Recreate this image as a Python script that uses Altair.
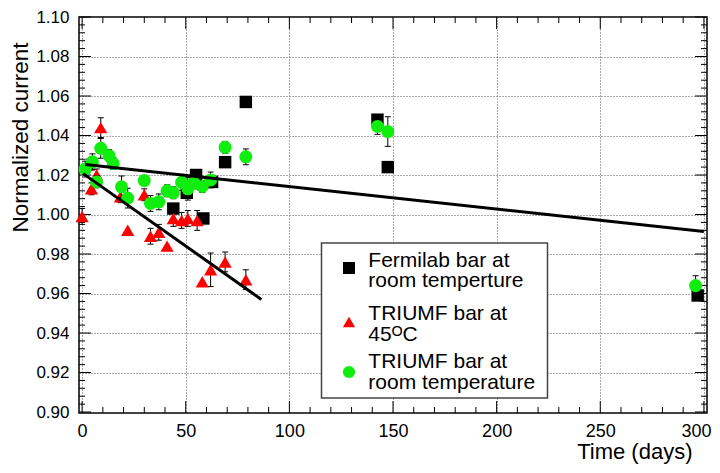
import altair as alt
import pandas as pd
import numpy as np

F = "Liberation Sans"

# ---------------- data ----------------
# Fermilab bar at room temperature (black squares)
fermi_x = [44, 50.5, 55, 58.5, 62.7, 69, 79, 142.5, 147.5, 297]
fermi_y = [1.003, 1.011, 1.020, 0.998, 1.0165, 1.0265, 1.057, 1.048, 1.024, 0.959]

# TRIUMF bar at 45 C (red triangles)
t45_x = [0, 3, 4.5, 7, 9, 18.5, 22, 30, 33, 37, 41, 44, 48, 51, 55.5, 58, 62, 69, 79]
t45_y = [0.999, 1.025, 1.013, 1.020, 1.044, 1.009, 0.992, 1.010, 0.989, 0.991,
         0.984, 0.998, 0.997, 0.998, 0.997, 0.966, 0.972, 0.976, 0.967]
t45_e = [0.004, 0.003, 0.003, 0.003, 0.005, 0.003, 0.0, 0.003, 0.004, 0.004,
         0.0, 0.004, 0.004, 0.004, 0.005, 0.0, 0.0085, 0.005, 0.005]

# TRIUMF bar at room temperature (green circles)
trt_x = [1.5, 5, 7, 9, 13, 15, 19, 22, 30, 33, 37, 41, 44, 48, 51, 54, 58, 62,
         69, 79, 142.5, 147.5, 296]
trt_y = [1.023, 1.0267, 1.0165, 1.0335, 1.0298, 1.0258, 1.014, 1.0083, 1.0172,
         1.0056, 1.0064, 1.012, 1.011, 1.0163, 1.013, 1.016, 1.0142, 1.0175,
         1.034, 1.0292, 1.0446, 1.042, 0.964]
trt_e = [0.004, 0.004, 0.003, 0.005, 0.003, 0.003, 0.0055, 0.005, 0.002, 0.004,
         0.004, 0.003, 0.003, 0.004, 0.0057, 0.003, 0.003, 0.004, 0.003, 0.004,
         0.004, 0.0075, 0.005]

# fitted straight lines (end points)
fit1_x = [1.5, 300]
fit1_y = [1.0253, 0.9914]
fit2_x = [0.5, 86.5]
fit2_y = [1.0207, 0.957]

# legend labels (two lines each)
legend_labels = [
    ["Fermilab bar at", "room temperture"],
    ["TRIUMF bar at", "45\u1D3CC"],
    ["TRIUMF bar at", "room temperature"],
]

# axis tick values
x_major = [0, 50, 100, 150, 200, 250, 300]
x_minor = [v for v in range(0, 301, 10) if v % 50 != 0]
y_major = [round(0.90 + 0.02 * i, 2) for i in range(11)]
y_minor = [round(0.90 + 0.004 * i, 3) for i in range(51) if i % 5 != 0]

# ---------------- layout ----------------
W, H = 628, 396
TOP = 9          # top padding (plot top at page y = 8 + TOP)
DY = -TOP        # legend positions were measured relative to page y = 8

fermi = pd.DataFrame({"x": fermi_x, "y": fermi_y})
t45 = pd.DataFrame({"x": t45_x, "y": t45_y, "e": t45_e})
trt = pd.DataFrame({"x": trt_x, "y": trt_y, "e": trt_e})
for d in (t45, trt):
    d["lo"] = d["y"] - d["e"]
    d["hi"] = d["y"] + d["e"]
fits = pd.DataFrame({
    "x": fit1_x + fit2_x,
    "y": fit1_y + fit2_y,
    "fit": ["a", "a", "b", "b"],
})

xs = alt.Scale(domain=[-1.5, 301.5], nice=False, zero=False)
ys = alt.Scale(domain=[0.8995, 1.1], nice=False, zero=False)

xaxis = alt.Axis(
    values=x_major, format="d", title="Time (days)",
    labelFont=F, labelFontSize=18, labelColor="black", labelPadding=9,
    labelFlush=False, labelOverlap=False,
    labelOffset={"condition": {"test": "datum.value == 300", "value": -8}, "value": 0},
    ticks=False, tickSize=0, domain=False,
    grid=True, gridDash=[1, 2], gridColor="#555555", gridWidth=1,
    titleFont=F, titleFontSize=22, titleFontWeight="normal", titleColor="black",
    titleAlign="right", titleBaseline="middle", titleX=613, titleY=38,
)
yaxis = alt.Axis(
    values=y_major, format=".2f", title="Normalized current",
    labelFont=F, labelFontSize=17, labelColor="black", labelPadding=10,
    labelFlush=False, labelOverlap=False,
    ticks=False, tickSize=0, domain=False,
    grid=True, gridDash=[1, 2], gridColor="#555555", gridWidth=1,
    titleFont=F, titleFontSize=22.5, titleFontWeight="normal", titleColor="black",
    titleAngle=270, titleAlign="center", titleBaseline="top",
    titleX=-70, titleY=120,
)


def X(f="x"):
    return alt.X(f, type="quantitative", scale=xs, axis=xaxis)


def Y(f="y"):
    return alt.Y(f, type="quantitative", scale=ys, axis=yaxis)


layers = []


# frame ticks (inside)
def yticks(vals, L):
    d = pd.DataFrame({"v": vals})
    left = alt.Chart(d).mark_rule(color="black", strokeWidth=1).encode(
        y=Y("v"), x=alt.value(0), x2=alt.value(L))
    right = alt.Chart(d).mark_rule(color="black", strokeWidth=1).encode(
        y=Y("v"), x=alt.value(W - L), x2=alt.value(W))
    return [left, right]


def xticks(vals, L):
    d = pd.DataFrame({"v": vals})
    bottom = alt.Chart(d).mark_rule(color="black", strokeWidth=1).encode(
        x=X("v"), y=alt.value(H - L), y2=alt.value(H))
    top = alt.Chart(d).mark_rule(color="black", strokeWidth=1).encode(
        x=X("v"), y=alt.value(0), y2=alt.value(L))
    return [bottom, top]


layers += yticks(y_major, 12) + yticks(y_minor, 6)
layers += xticks(x_major, 12) + xticks(x_minor, 6)

# Fermilab squares
layers.append(alt.Chart(fermi).mark_point(
    shape="square", filled=True, size=155, color="black", opacity=1
).encode(x=X(), y=Y()))


def errbars(d):
    d = d[d["e"] > 0]
    bar = alt.Chart(d).mark_rule(color="black", strokeWidth=1).encode(
        x=X(), y=Y("lo"), y2="hi")
    cap_lo = alt.Chart(d).mark_tick(
        orient="horizontal", size=6, thickness=1, color="black", opacity=1
    ).encode(x=X(), y=Y("lo"))
    cap_hi = alt.Chart(d).mark_tick(
        orient="horizontal", size=6, thickness=1, color="black", opacity=1
    ).encode(x=X(), y=Y("hi"))
    return [bar, cap_lo, cap_hi]


RED = "#ff0000"
GREEN = "#10ee10"

layers += errbars(t45)
layers.append(alt.Chart(t45).mark_point(
    shape="triangle-up", filled=True, size=175, color=RED, opacity=1
).encode(x=X(), y=Y()))

layers += errbars(trt)
layers.append(alt.Chart(trt).mark_circle(
    size=170, color=GREEN, opacity=1
).encode(x=X(), y=Y()))

# fit lines
layers.append(alt.Chart(fits).mark_line(
    color="black", strokeWidth=3
).encode(x=X(), y=Y(), detail="fit:N"))

# ---------------- manual legend ----------------
one = alt.Data(values=[{"k": 1}])

layers.append(alt.Chart(one).mark_rect(
    fill="white", stroke="#444444", strokeWidth=1.5
).encode(x=alt.value(242.5), x2=alt.value(468.5),
         y=alt.value(235 + DY), y2=alt.value(390 + DY)))

layers.append(alt.Chart(one).mark_point(
    shape="square", filled=True, size=145, color="black", opacity=1
).encode(x=alt.value(270), y=alt.value(260 + DY)))
layers.append(alt.Chart(one).mark_point(
    shape="triangle-up", filled=True, size=150, color=RED, opacity=1
).encode(x=alt.value(270), y=alt.value(314 + DY)))
layers.append(alt.Chart(one).mark_circle(
    size=150, color=GREEN, opacity=1
).encode(x=alt.value(270), y=alt.value(364 + DY)))


def txt(lines, x, y, size=21):
    return alt.Chart(one).mark_text(
        align="left", baseline="alphabetic", font=F, fontSize=size,
        color="black", lineHeight=20.5
    ).encode(x=alt.value(x), y=alt.value(y + DY), text=alt.value(lines))


TX = 289.3
layers.append(txt(legend_labels[0], TX, 258.7))
layers.append(txt(legend_labels[1], TX, 312))
layers.append(txt(legend_labels[2], TX, 360.3))

chart = alt.layer(*layers).properties(
    width=W, height=H,
    autosize=alt.AutoSizeParams(type="none"),
    padding={"left": 71, "top": TOP, "right": 5, "bottom": 52},
    background="white",
).configure_view(
    stroke="black", strokeWidth=1.5
)

chart.save("out.html", embed_options={"renderer": "svg", "actions": False})
